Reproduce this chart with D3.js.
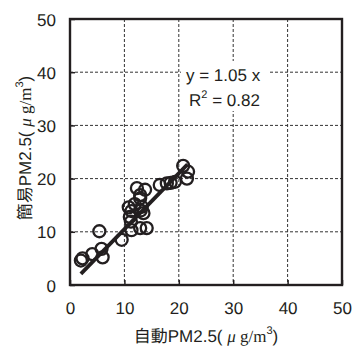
<!DOCTYPE html>
<html>
<head>
<meta charset="utf-8">
<script src="https://cdn.jsdelivr.net/npm/d3@7"></script>
<style>
  body { margin: 0; background: #fff; }
  text { font-family: "Liberation Sans", Arial, sans-serif; fill: #231f20; text-rendering: geometricPrecision; }
</style>
</head>
<body>
<script>
// auto (x) vs simple (y) PM2.5 readings
var autoPM = [2.0, 2.3, 4.1, 5.8, 6.0, 5.4, 9.5, 11.3, 12.9, 14.1, 11.2, 11.3, 11.9, 12.9, 13.8,
              12.9, 13.5, 13.2, 16.5, 17.8, 19.3, 21.5, 21.7, 20.8, 12.3, 11.0, 10.8, 18.5, 13.0];
var simplePM = [4.6, 5.0, 5.8, 6.8, 5.2, 10.1, 8.5, 10.3, 10.7, 10.7, 11.9, 13.9, 15.2, 16.3, 17.9,
                16.9, 13.5, 14.7, 18.8, 19.1, 19.4, 20.0, 21.3, 22.4, 18.2, 12.8, 14.6, 19.2, 14.0];
var ticks = [0, 10, 20, 30, 40, 50];
var slope = 1.05, fitRange = [2, 21.6];

var W = 353, H = 347;
var svg = d3.select('body').append('svg').attr('width', W).attr('height', H);

var x = d3.scaleLinear().domain([0, 50]).range([70, 342]);
var y = d3.scaleLinear().domain([0, 50]).range([285, 19]);

// dashed grid
var grid = svg.append('g').attr('stroke', '#333').attr('stroke-width', 1).attr('stroke-dasharray', '3,2');
grid.selectAll('.gx').data(ticks.slice(1, -1)).enter().append('line')
    .attr('x1', function (d) { return x(d); }).attr('x2', function (d) { return x(d); })
    .attr('y1', y(50)).attr('y2', y(0));
grid.selectAll('.gy').data(ticks.slice(1, -1)).enter().append('line')
    .attr('y1', function (d) { return y(d); }).attr('y2', function (d) { return y(d); })
    .attr('x1', x(0)).attr('x2', x(50));

// white box behind the regression text
svg.append('rect').attr('x', 181).attr('y', 61).attr('width', 88).attr('height', 50).attr('fill', '#fff');

// axes (inside ticks)
var xAxis = svg.append('g').attr('transform', 'translate(0,' + y(0) + ')')
    .call(d3.axisBottom(x).tickValues(ticks).tickSize(-5).tickPadding(17));
var yAxis = svg.append('g').attr('transform', 'translate(' + x(0) + ',0)')
    .call(d3.axisLeft(y).tickValues(ticks).tickSize(-5).tickPadding(14));
[xAxis, yAxis].forEach(function (a) {
  a.select('.domain').remove();
  a.selectAll('line').attr('stroke', '#231f20').attr('stroke-width', 1.5);
  a.selectAll('text').attr('font-size', 17).attr('fill', '#231f20')
      .style('font-family', '"Liberation Sans", Arial, sans-serif');
});
yAxis.selectAll('text').attr('dy', '0.36em');

// frame
svg.append('rect').attr('x', x(0)).attr('y', y(50))
    .attr('width', x(50) - x(0)).attr('height', y(0) - y(50))
    .attr('fill', 'none').attr('stroke', '#231f20').attr('stroke-width', 2.4);

// points
svg.append('g').selectAll('circle').data(autoPM).enter().append('circle')
    .attr('cx', function (d) { return x(d); })
    .attr('cy', function (d, i) { return y(simplePM[i]); })
    .attr('r', 6)
    .attr('fill', 'none').attr('stroke', '#231f20').attr('stroke-width', 2.3);

// fit line
svg.append('line')
    .attr('x1', x(fitRange[0])).attr('y1', y(fitRange[0] * slope))
    .attr('x2', x(fitRange[1])).attr('y2', y(fitRange[1] * slope))
    .attr('stroke', '#231f20').attr('stroke-width', 3.8);

// regression text
svg.append('text').attr('x', 186).attr('y', 81).attr('font-size', 17).text('y = 1.05 x');
var r2 = svg.append('text').attr('x', 189).attr('y', 106).attr('font-size', 17);
r2.append('tspan').text('R');
r2.append('tspan').attr('font-size', 11).attr('dy', -8).text('2');
r2.append('tspan').attr('dy', 8).text(' = 0.82');

// axis titles
function title(sel, prefix) {
  sel.append('tspan').attr('font-family', '"Noto Sans CJK JP", sans-serif').text(prefix);
  sel.append('tspan').text('PM2.5( ');
  sel.append('tspan').attr('font-family', '"Liberation Serif", serif').attr('font-style', 'italic').text('μ');
  sel.append('tspan').attr('font-family', '"Liberation Serif", serif').text(' g/m');
  sel.append('tspan').attr('font-size', 11).attr('dy', -8).text('3');
  sel.append('tspan').attr('dy', 8).text(')');
}
var xt = svg.append('text').attr('x', 206).attr('y', 342).attr('text-anchor', 'middle')
    .attr('font-size', 17);
title(xt, '自動');
var yt = svg.append('text').attr('transform', 'translate(31,148) rotate(-90)')
    .attr('text-anchor', 'middle').attr('font-size', 17);
title(yt, '簡易');
</script>
</body>
</html>
